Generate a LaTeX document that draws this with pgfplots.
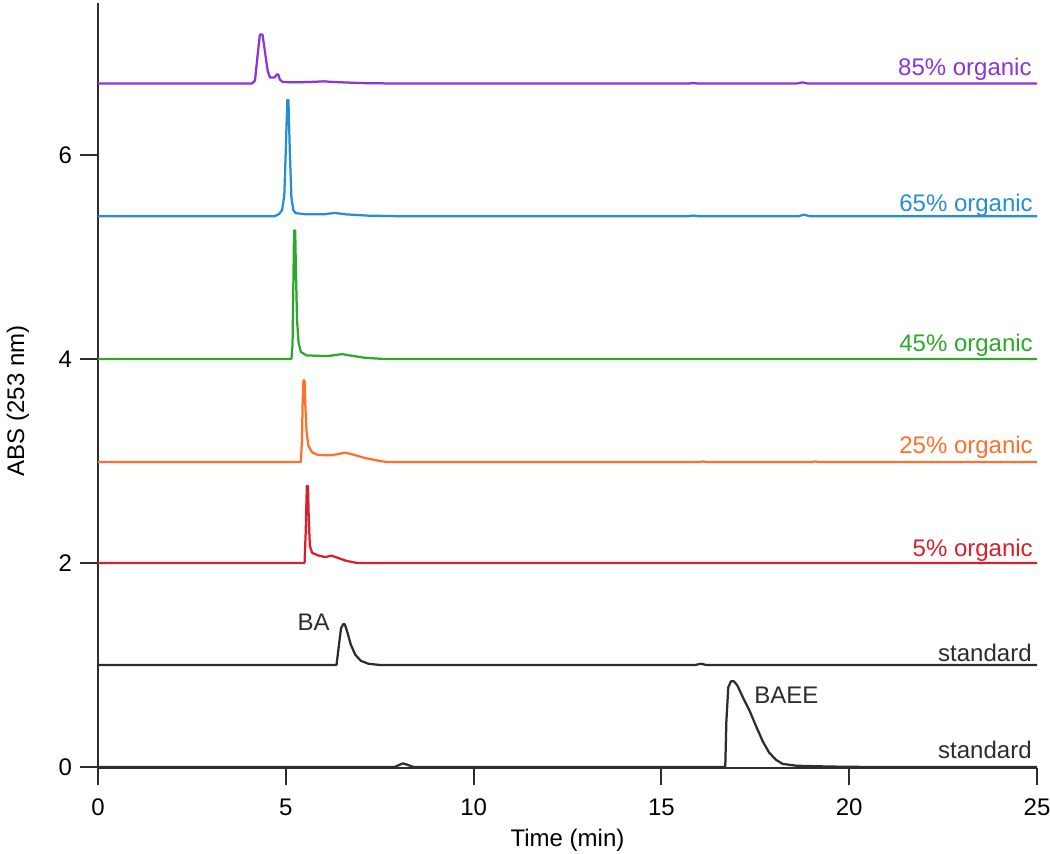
\documentclass[border=0pt]{standalone}
\usepackage{pgfplots}
\pgfplotsset{compat=1.18}
\usepackage{fontspec}
\setmainfont{Liberation Sans}
\definecolor{cpurple}{RGB}{138,52,220}
\definecolor{cblue}{RGB}{38,142,212}
\definecolor{cgreen}{RGB}{44,168,44}
\definecolor{corange}{RGB}{255,112,44}
\definecolor{cred}{RGB}{214,32,44}
\definecolor{cblack}{RGB}{45,45,45}
\begin{document}
\fontsize{9.6}{11}\selectfont
\begin{tikzpicture}
\path[use as bounding box] (-39.2pt,-34.4pt) rectangle (380.8pt,307.2pt);
\begin{axis}[
  at={(0,0)}, anchor=south west,
  scale only axis, width=375.6pt, height=306pt,
  xmin=0, xmax=25, ymin=-0.01, ymax=7.49,
  axis x line*=bottom, axis y line*=left,
  axis line style={line width=0.8pt, color=cblack, -},
  tick align=outside,
  major tick length=7pt,
  tick style={line width=0.8pt, color=cblack},
  xtick={0,5,10,15,20,25}, ytick={0,2,4,6},
  minor tick num=0,
  /pgf/number format/assume math mode=true,
  ticklabel style={font=\fontsize{9.6}{11}\selectfont},
  xticklabel style={yshift=-2pt},
  label style={font=\fontsize{9.6}{11}\selectfont},
  xlabel={Time (min)}, ylabel={ABS (253 nm)},
  xlabel style={at={(axis description cs:0.5,0)}, anchor=center, yshift=-28.8pt},
  ylabel style={at={(axis description cs:-0.0852,0.48)}, anchor=center},
  clip=false,
  every axis plot/.append style={line width=0.9pt, line join=round},
]
% 85% organic
\addplot[cpurple] coordinates {(0,6.70) (4.10,6.70) (4.18,6.73) (4.25,6.98) (4.31,7.18) (4.38,7.18) (4.45,7.0) (4.52,6.82) (4.58,6.76) (4.70,6.76) (4.76,6.79) (4.80,6.79) (4.84,6.74) (4.92,6.715) (5.3,6.712) (5.8,6.718) (6.0,6.722) (6.3,6.715) (7.0,6.705) (8.0,6.70) (15.7,6.70) (15.85,6.705) (16.0,6.70) (18.6,6.70) (18.75,6.712) (18.9,6.70) (25,6.70)};
% 65% organic
\addplot[cblue] coordinates {(0,5.40) (4.70,5.40) (4.82,5.42) (4.90,5.46) (4.96,5.60) (5.00,6.05) (5.04,6.54) (5.07,6.54) (5.11,6.0) (5.15,5.58) (5.20,5.46) (5.26,5.43) (5.5,5.42) (6.0,5.418) (6.3,5.432) (6.6,5.418) (7.2,5.405) (8.0,5.40) (15.7,5.40) (15.85,5.406) (16.0,5.40) (18.65,5.40) (18.8,5.415) (18.95,5.40) (25,5.40)};
% 45% organic
\addplot[cgreen] coordinates {(0,4.0) (5.15,4.0) (5.18,4.15) (5.20,4.7) (5.22,5.26) (5.25,5.26) (5.27,4.85) (5.30,4.38) (5.34,4.16) (5.40,4.07) (5.55,4.035) (6.1,4.028) (6.35,4.04) (6.5,4.048) (6.7,4.035) (7.1,4.012) (7.6,4.0) (25,4.0)};
% 25% organic
\addplot[corange] coordinates {(0,2.99) (5.40,2.99) (5.43,3.2) (5.45,3.6) (5.47,3.79) (5.50,3.79) (5.52,3.55) (5.55,3.3) (5.60,3.15) (5.70,3.085) (5.85,3.06) (6.2,3.055) (6.45,3.072) (6.6,3.082) (6.8,3.062) (7.1,3.03) (7.5,3.0) (7.7,2.99) (16.0,2.99) (16.1,2.995) (16.2,2.99) (19.0,2.99) (19.1,2.995) (19.2,2.99) (25,2.99)};
% 5% organic
\addplot[cred] coordinates {(0,2.0) (5.50,2.0) (5.53,2.3) (5.56,2.755) (5.59,2.755) (5.61,2.45) (5.64,2.17) (5.70,2.10) (5.85,2.075) (6.05,2.058) (6.22,2.072) (6.35,2.055) (6.6,2.022) (6.9,2.0) (25,2.0)};
% standard BA
\addplot[cblack] coordinates {(0,1.0) (6.35,1.0) (6.40,1.15) (6.47,1.36) (6.53,1.40) (6.57,1.40) (6.64,1.32) (6.73,1.2) (6.85,1.10) (7.0,1.04) (7.2,1.012) (7.5,1.0) (15.9,1.0) (16.05,1.012) (16.2,1.0) (25,1.0)};
% standard BAEE
\addplot[cblack] coordinates {(0,0) (7.9,0) (8.02,0.02) (8.12,0.035) (8.25,0.02) (8.4,0) (16.70,0) (16.73,0.45) (16.78,0.78) (16.85,0.84) (16.93,0.84) (17.02,0.80) (17.16,0.69) (17.35,0.55) (17.52,0.40) (17.7,0.25) (17.87,0.14) (18.05,0.07) (18.23,0.03) (18.6,0.012) (19.5,0.004) (20.5,0) (25,0)};
\begin{scope}[every node/.style={inner sep=0pt}]
\node[anchor=base east, text=cpurple] at (axis cs:24.87,6.78) {85\% organic};
\node[anchor=base east, text=cblue] at (axis cs:24.9,5.45) {65\% organic};
\node[anchor=base east, text=cgreen] at (axis cs:24.9,4.07) {45\% organic};
\node[anchor=base east, text=corange] at (axis cs:24.9,3.07) {25\% organic};
\node[anchor=base east, text=cred] at (axis cs:24.9,2.06) {5\% organic};
\node[anchor=base east, text=cblack] at (axis cs:24.87,1.035) {standard};
\node[anchor=base east, text=cblack] at (axis cs:24.87,0.08) {standard};
\node[anchor=base, text=cblack] at (axis cs:5.74,1.34) {BA};
\node[anchor=base, text=cblack] at (axis cs:18.33,0.62) {BAEE};
\end{scope}
\end{axis}
\end{tikzpicture}
\end{document}
